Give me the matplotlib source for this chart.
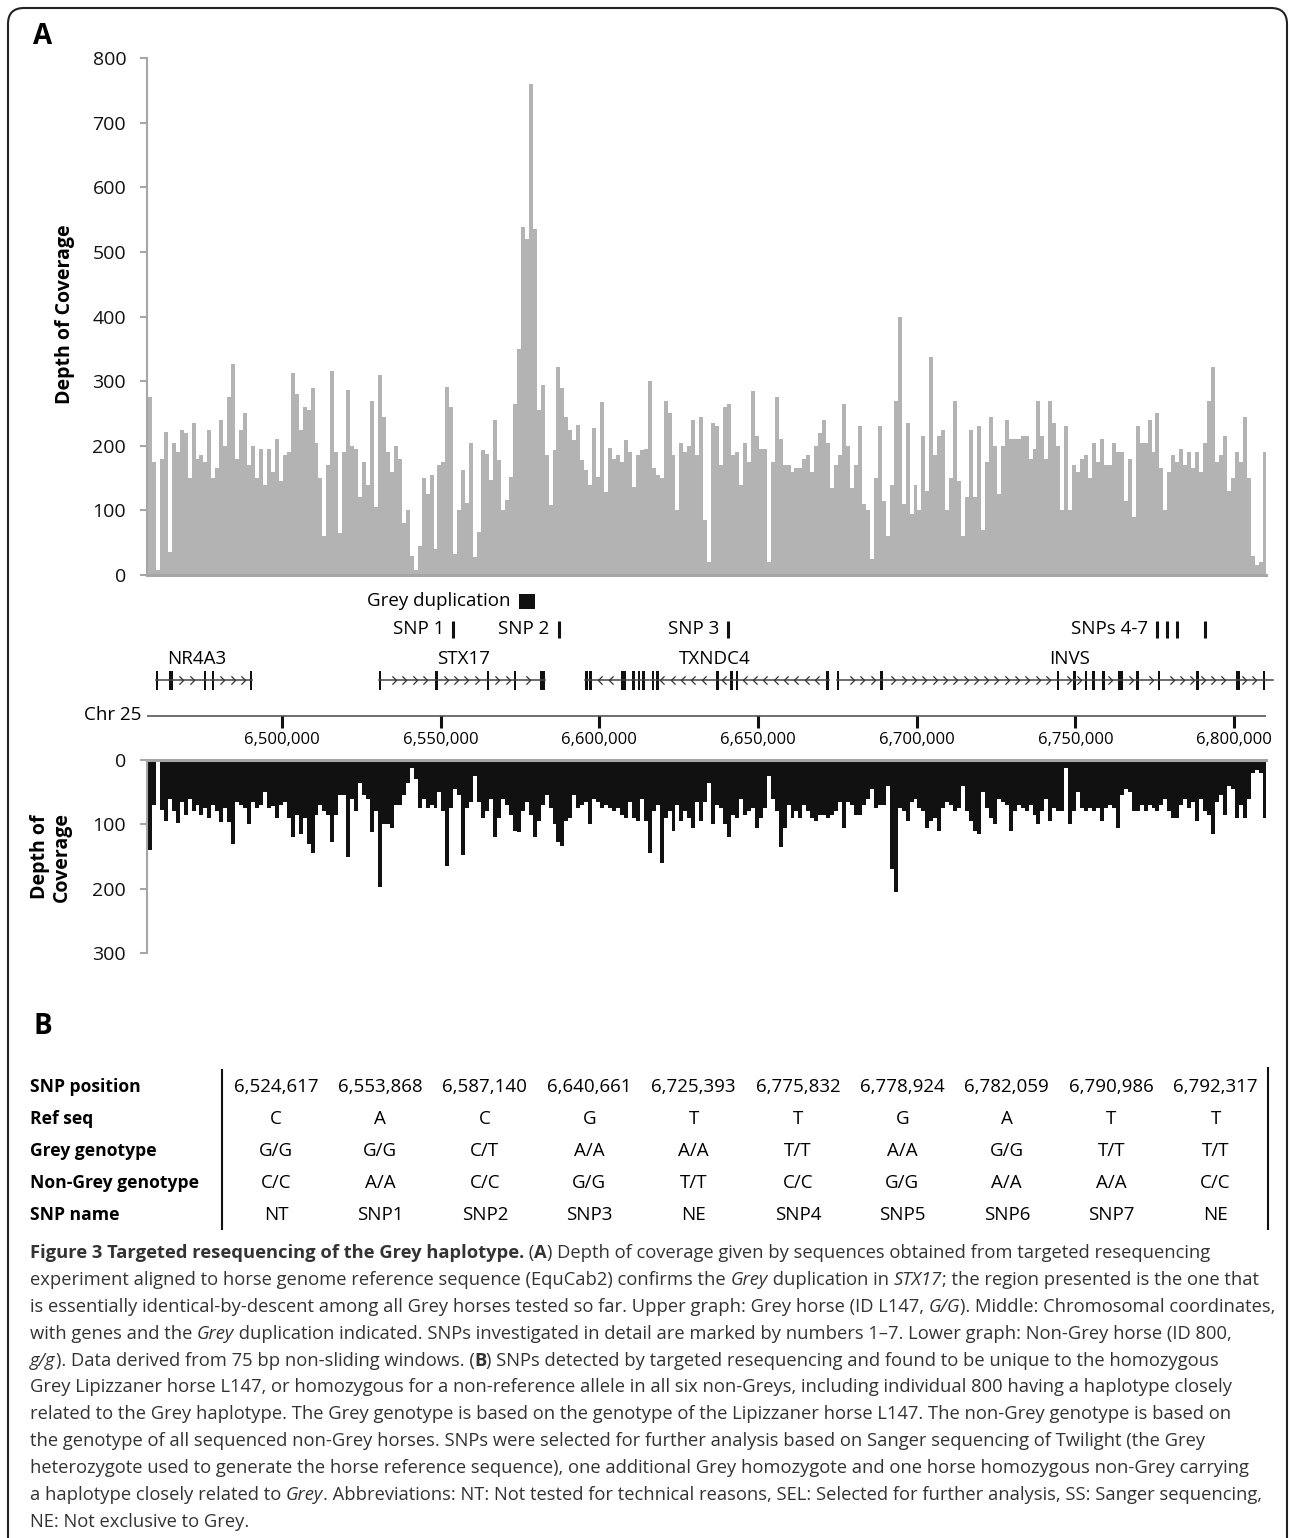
import numpy as np
import matplotlib.pyplot as plt
from matplotlib.patches import Rectangle, FancyBboxPatch
from matplotlib.lines import Line2D
from matplotlib.path import Path

plt.rcParams['font.family'] = ['Open Sans', 'DejaVu Sans']

# ---- data -------------------------------------------------------------
BIN_START = 6457750      # first 1.25 kb window
BIN_SIZE = 1250

# upper graph: Grey horse L147
grey_depth = [
    275, 175, 8, 180, 222, 35, 205, 190, 225, 220,
    150, 235, 180, 185, 175, 225, 150, 165, 240, 200,
    275, 327, 180, 225, 250, 170, 200, 150, 195, 140,
    195, 160, 210, 145, 185, 190, 312, 280, 225, 260,
    255, 290, 205, 150, 60, 170, 316, 190, 65, 190,
    286, 200, 195, 120, 175, 140, 270, 105, 310, 245,
    190, 160, 200, 180, 80, 100, 30, 8, 45, 150,
    125, 155, 40, 170, 175, 291, 260, 33, 100, 162,
    112, 204, 28, 67, 193, 188, 147, 240, 178, 100,
    116, 152, 265, 350, 539, 520, 760, 535, 255, 294,
    185, 108, 193, 322, 289, 245, 224, 209, 232, 178,
    162, 139, 227, 152, 268, 129, 196, 180, 185, 175,
    209, 190, 136, 185, 193, 195, 300, 165, 155, 150,
    270, 250, 185, 100, 205, 190, 200, 240, 185, 245,
    85, 20, 235, 230, 170, 260, 265, 185, 190, 140,
    205, 175, 285, 215, 195, 195, 20, 175, 275, 210,
    170, 170, 160, 165, 165, 180, 185, 160, 200, 220,
    240, 205, 135, 170, 185, 265, 200, 135, 170, 230,
    110, 100, 25, 150, 230, 115, 60, 140, 270, 400,
    110, 235, 95, 140, 100, 215, 130, 338, 185, 215,
    225, 100, 150, 270, 145, 60, 120, 225, 120, 230,
    70, 175, 245, 200, 125, 200, 240, 210, 210, 210,
    215, 215, 180, 195, 270, 215, 180, 270, 235, 200,
    100, 230, 100, 170, 160, 180, 185, 150, 205, 175,
    210, 170, 170, 205, 190, 190, 115, 180, 90, 230,
    205, 205, 240, 190, 250, 165, 100, 160, 185, 175,
    195, 170, 190, 165, 190, 160, 205, 270, 322, 175,
    185, 215, 130, 150, 190, 175, 245, 150, 30, 15,
    20, 190,
]

# lower graph: non-Grey horse 800
nongrey_depth = [
    140, 70, 2, 78, 95, 60, 80, 98, 65, 85,
    60, 80, 70, 85, 75, 90, 70, 80, 97, 75,
    97, 130, 65, 70, 75, 100, 65, 75, 70, 50,
    75, 72, 90, 70, 65, 90, 120, 85, 115, 90,
    130, 145, 85, 70, 80, 85, 128, 85, 55, 55,
    150, 60, 80, 35, 55, 60, 112, 80, 198, 100,
    100, 105, 70, 70, 55, 35, 12, 30, 75, 60,
    75, 70, 75, 50, 80, 165, 75, 45, 55, 148,
    75, 65, 25, 65, 90, 80, 60, 120, 90, 60,
    70, 85, 110, 112, 80, 65, 85, 120, 95, 70,
    55, 75, 100, 128, 133, 95, 90, 55, 75, 70,
    65, 100, 60, 65, 75, 70, 75, 80, 75, 85,
    90, 65, 90, 95, 60, 95, 145, 80, 70, 160,
    90, 80, 110, 70, 95, 80, 90, 105, 65, 95,
    65, 35, 100, 70, 75, 100, 120, 85, 90, 60,
    85, 80, 75, 105, 90, 75, 25, 60, 80, 135,
    105, 70, 90, 80, 90, 70, 80, 90, 95, 85,
    85, 90, 85, 80, 65, 105, 65, 70, 85, 85,
    70, 60, 45, 75, 70, 70, 40, 170, 205, 75,
    80, 95, 65, 60, 75, 80, 105, 95, 90, 110,
    75, 65, 70, 80, 75, 40, 80, 95, 110, 115,
    50, 75, 90, 100, 60, 65, 70, 110, 80, 70,
    75, 80, 70, 85, 100, 80, 60, 95, 75, 80,
    80, 13, 100, 80, 50, 75, 80, 75, 80, 75,
    95, 75, 70, 75, 105, 55, 45, 50, 80, 80,
    70, 80, 70, 75, 80, 70, 60, 80, 90, 90,
    70, 60, 75, 65, 95, 60, 80, 85, 115, 65,
    55, 85, 40, 45, 90, 70, 90, 60, 20, 15,
    20, 90,
]

chr_ticks = [6500000, 6550000, 6600000, 6650000, 6700000, 6750000, 6800000]
grey_dup = (6574700, 6579700)

snp_mark_labels = ['SNP 1', 'SNP 2', 'SNP 3', 'SNPs 4-7']
snp_mark_pos = [[6553868], [6587140], [6640661], [6775832, 6778924, 6782059, 6790986]]

gene_names = ['NR4A3', 'STX17', 'TXNDC4', 'INVS']
gene_label_x = [6473200, 6557300, 6636500, 6748300]
gene_strand = [1, 1, -1, 1]
gene_end = [None, None, None, 6812400]
gene_exons = [
    [(6460150, 6460950), (6464400, 6465500), (6475400, 6476200), (6477900, 6478700),
     (6489800, 6490600)],
    [(6530500, 6531300), (6548300, 6549100), (6564500, 6565300), (6573000, 6573800),
     (6581200, 6582800)],
    [(6595500, 6596300), (6596900, 6597700), (6606900, 6608500), (6610400, 6611200),
     (6612100, 6612900), (6613600, 6614400), (6616500, 6617300), (6617900, 6618700),
     (6636800, 6637600), (6641200, 6642000), (6643000, 6643800), (6671500, 6672300)],
    [(6674800, 6675600), (6688500, 6689300), (6744100, 6744900), (6749300, 6750100),
     (6752900, 6753700), (6755300, 6756100), (6758400, 6759200), (6763300, 6765000),
     (6769200, 6770000), (6775900, 6776700), (6788100, 6788900), (6800600, 6802000),
     (6809100, 6809900)],
]

row_labels = ['SNP position', 'Ref seq', 'Grey genotype', 'Non-Grey genotype', 'SNP name']
snp_positions = [6524617, 6553868, 6587140, 6640661, 6725393,
                 6775832, 6778924, 6782059, 6790986, 6792317]
ref_seq = ['C', 'A', 'C', 'G', 'T', 'T', 'G', 'A', 'T', 'T']
grey_genotype = ['G/G', 'G/G', 'C/T', 'A/A', 'A/A', 'T/T', 'A/A', 'G/G', 'T/T', 'T/T']
nongrey_genotype = ['C/C', 'A/A', 'C/C', 'G/G', 'T/T', 'C/C', 'G/G', 'A/A', 'A/A', 'C/C']
snp_names = ['NT', 'SNP1', 'SNP2', 'SNP3', 'NE', 'SNP4', 'SNP5', 'SNP6', 'SNP7', 'NE']

caption = [
    [('Figure 3 Targeted resequencing of the Grey haplotype.', 'b'), (' (', ''), ('A', 'b'),
     (') Depth of coverage given by sequences obtained from targeted resequencing', '')],
    [('experiment aligned to horse genome reference sequence (EquCab2) confirms the ', ''),
     ('Grey', 'i'), (' duplication in ', ''), ('STX17', 'i'),
     ('; the region presented is the one that', '')],
    [('is essentially identical-by-descent among all Grey horses tested so far. Upper graph: '
      'Grey horse (ID L147, ', ''), ('G/G', 'i'), ('). Middle: Chromosomal coordinates,', '')],
    [('with genes and the ', ''), ('Grey', 'i'),
     (' duplication indicated. SNPs investigated in detail are marked by numbers 1\u20137. '
      'Lower graph: Non-Grey horse (ID 800,', '')],
    [('g/g', 'i'), ('). Data derived from 75 bp non-sliding windows. (', ''), ('B', 'b'),
     (') SNPs detected by targeted resequencing and found to be unique to the homozygous', '')],
    [('Grey Lipizzaner horse L147, or homozygous for a non-reference allele in all six '
      'non-Greys, including individual 800 having a haplotype closely', '')],
    [('related to the Grey haplotype. The Grey genotype is based on the genotype of the '
      'Lipizzaner horse L147. The non-Grey genotype is based on', '')],
    [('the genotype of all sequenced non-Grey horses. SNPs were selected for further analysis '
      'based on Sanger sequencing of Twilight (the Grey', '')],
    [('heterozygote used to generate the horse reference sequence), one additional Grey '
      'homozygote and one horse homozygous non-Grey carrying', '')],
    [('a haplotype closely related to ', ''), ('Grey', 'i'),
     ('. Abbreviations: NT: Not tested for technical reasons, SEL: Selected for further '
      'analysis, SS: Sanger sequencing,', '')],
    [('NE: Not exclusive to Grey.', '')],
]

# ---- figure -----------------------------------------------------------
W, H = 1290, 1538
fig = plt.figure(figsize=(W / 100, H / 100), dpi=100, facecolor='white')


def px_axes(left, top, right, bottom):
    return fig.add_axes([left / W, 1 - bottom / H, (right - left) / W, (bottom - top) / H])


bg = px_axes(0, 0, W, H)
bg.set_xlim(0, W)
bg.set_ylim(H, 0)
bg.axis('off')

XMIN, XMAX = 6457460, 6810080
SPINE = '#a6a6a6'
bin_left = BIN_START + BIN_SIZE * np.arange(len(grey_depth))

# upper coverage
ax1 = px_axes(147, 58, 1266, 575)
ax1.bar(bin_left, grey_depth, width=BIN_SIZE, align='edge', color='#b3b3b3', linewidth=0)
ax1.set_xlim(XMIN, XMAX)
ax1.set_ylim(0, 800)
ax1.set_yticks(range(0, 801, 100))
ax1.set_xticks([])
ax1.spines[['top', 'right']].set_visible(False)
ax1.spines['left'].set_color(SPINE)
ax1.spines['left'].set_linewidth(1.5)
ax1.spines['bottom'].set_color(SPINE)
ax1.spines['bottom'].set_linewidth(2.2)
ax1.tick_params(axis='y', colors=SPINE, labelcolor='#111111', length=5, width=1.5,
                pad=10, labelsize=14)

# lower coverage (inverted)
ax2 = px_axes(147, 760, 1266, 953)
ax2.bar(bin_left, nongrey_depth, width=BIN_SIZE, align='edge', color='#111111', linewidth=0)
ax2.set_xlim(XMIN, XMAX)
ax2.set_ylim(300, 0)
ax2.set_yticks([0, 100, 200, 300])
ax2.set_xticks([])
ax2.spines[['bottom', 'right']].set_visible(False)
ax2.spines['left'].set_color(SPINE)
ax2.spines['left'].set_linewidth(1.5)
ax2.spines['top'].set_color(SPINE)
ax2.spines['top'].set_linewidth(2.2)
ax2.tick_params(axis='y', colors=SPINE, labelcolor='#111111', length=5, width=1.5,
                pad=10, labelsize=14)

# middle track, y in figure pixels
axg = px_axes(147, 585, 1266, 750)
axg.set_xlim(XMIN, XMAX)
axg.set_ylim(750, 585)
axg.axis('off')

axg.add_patch(Rectangle((grey_dup[0], 594), grey_dup[1] - grey_dup[0], 15,
                        color='#111111', lw=0))
axg.text(grey_dup[0] - 2600, 601, 'Grey duplication', ha='right', va='center', fontsize=13.5)

for label, pos in zip(snp_mark_labels, snp_mark_pos):
    axg.vlines(pos, 621, 638, colors='#111111', lw=2.2)
    axg.text(pos[0] - 2800, 629, label, ha='right', va='center', fontsize=13.5)

chev_r = Path([(-0.5, 1), (0.5, 0), (-0.5, -1)], [Path.MOVETO, Path.LINETO, Path.LINETO])
chev_l = Path([(0.5, 1), (-0.5, 0), (0.5, -1)], [Path.MOVETO, Path.LINETO, Path.LINETO])

for name, lx, strand, exons, gend in zip(gene_names, gene_label_x, gene_strand,
                                         gene_exons, gene_end):
    g0 = exons[0][0]
    g1 = gend if gend else exons[-1][1]
    axg.plot([g0, g1], [680, 680], color='#444444', lw=1.1, clip_on=False)
    marks = np.arange(g0 + 1600, g1 - 300, 3250)
    keep = [m for m in marks if all(m < s - 900 or m > e + 900 for s, e in exons)]
    axg.plot(keep, [680] * len(keep), ls='none', marker=chev_r if strand > 0 else chev_l,
             ms=6, mfc='none', mec='#333333', mew=0.9, clip_on=False)
    for s, e in exons:
        axg.add_patch(Rectangle((s, 671), e - s, 19, color='#111111', lw=0))
    axg.text(lx, 659, name, ha='center', va='center', fontsize=13.5)

axg.hlines(716, XMIN, XMAX, colors='#555555', lw=1.2)
axg.vlines(chr_ticks, 716, 728, colors='#111111', lw=2.2)
for t in chr_ticks:
    axg.text(t, 740, f'{t:,}', ha='center', va='center', fontsize=12)
bg.text(141, 715, 'Chr 25', ha='right', va='center', fontsize=13.5)

# labels
bg.text(33, 36, 'A', ha='left', va='center', fontsize=20, fontweight='bold')
bg.text(33, 1026, 'B', ha='left', va='center', fontsize=20, fontweight='bold')
bg.text(65, 314, 'Depth of Coverage', rotation=90, ha='center', va='center',
        fontsize=14, fontweight='bold')
bg.text(51, 857, 'Depth of\nCoverage', rotation=90, ha='center', va='center',
        fontsize=14, fontweight='bold', linespacing=1.15)

# table
row_y = [1087, 1119, 1151, 1183, 1215]
col_x = 276 + 104.4 * np.arange(len(snp_positions))
rows = [[f'{p:,}' for p in snp_positions], ref_seq, grey_genotype, nongrey_genotype, snp_names]
for y, lab, vals in zip(row_y, row_labels, rows):
    bg.text(30, y, lab, ha='left', va='center', fontsize=12.6, fontweight='bold')
    for x, v in zip(col_x, vals):
        bg.text(x, y, v, ha='center', va='center', fontsize=13.5)
bg.add_line(Line2D([222, 222], [1070, 1229], color='#111111', lw=1.5))
bg.add_line(Line2D([1268, 1268], [1068, 1229], color='#111111', lw=1.5))

# caption
renderer = fig.canvas.get_renderer()
CAP = '#333333'


def text_width(s, **kw):
    a = bg.text(0, 0, s + '.', **kw)
    b = bg.text(0, 0, '.', **kw)
    w = a.get_window_extent(renderer).width - b.get_window_extent(renderer).width
    a.remove()
    b.remove()
    return w


def rich_line(x, y, parts, size):
    for s, style in parts:
        kw = dict(fontsize=size, color=CAP,
                  fontweight='bold' if 'b' in style else 'normal',
                  fontstyle='italic' if 'i' in style else 'normal')
        bg.text(x, y, s, ha='left', va='center', **kw)
        x += text_width(s, **kw)


for k, parts in enumerate(caption):
    rich_line(30, 1253 + 26.9 * k, parts, 13.2)

# rounded frame
bg.add_patch(FancyBboxPatch((8, 8), 1279, 1620, boxstyle='round,pad=0,rounding_size=16',
                            fill=False, ec='#222222', lw=1.5))

fig.savefig('out.png', dpi=100, facecolor='white')
